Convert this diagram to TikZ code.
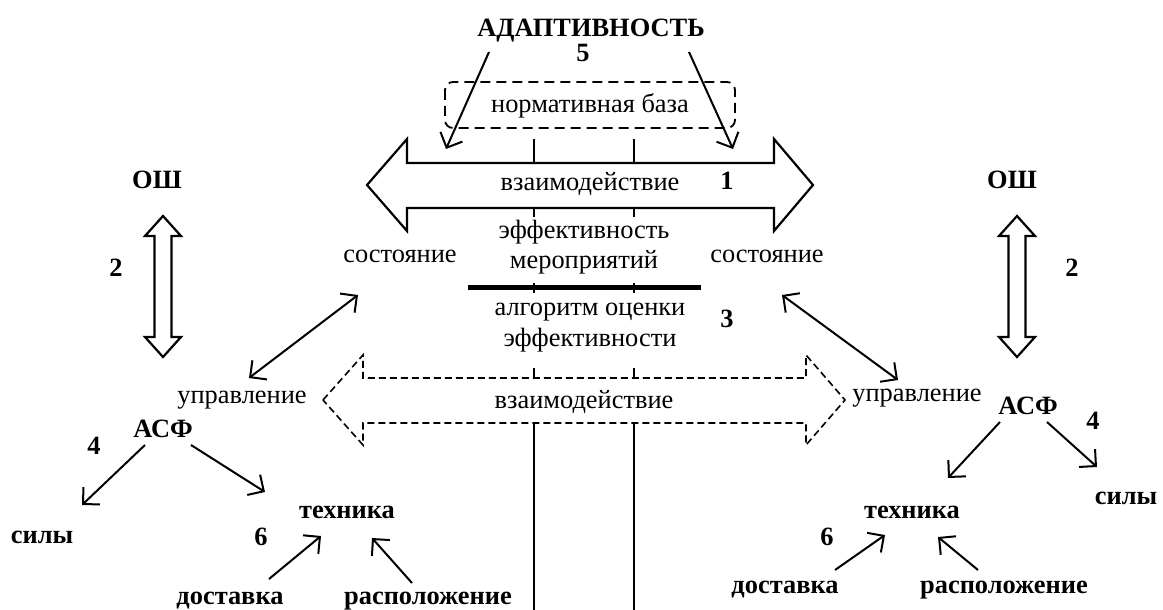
\documentclass[tikz,border=0pt]{standalone}
\usepackage{fontspec}
\setmainfont{Liberation Serif}
\usetikzlibrary{arrows.meta}
\tikzstyle{lbl}=[inner sep=0pt, anchor=base, align=center, font=\fontsize{13.2}{15.5}\selectfont]
\tikzstyle{blbl}=[lbl, font=\fontsize{13.2}{15.5}\selectfont\bfseries]
\tikzstyle{arr}=[-{Straight Barb[length=6pt,width=12pt]}, line width=1pt]
\tikzstyle{darr}=[{Straight Barb[length=6pt,width=12pt]}-{Straight Barb[length=6pt,width=12pt]}, line width=1pt]
\tikzstyle{band}=[line width=1.1pt, line join=miter]
\tikzstyle{dband}=[line width=0.8pt, dash pattern=on 3.5pt off 2pt]
\tikzstyle{tick}=[line width=0.6pt]

\begin{document}
\begin{tikzpicture}[x=0.5pt, y=-0.5pt]
        \useasboundingbox (0,0) rectangle (1163,610);
        % centre
        \node[blbl] (adapt) at (591,37) {АДАПТИВНОСТЬ};
        \node[blbl] (n5)    at (583,62) {5};
        \node[lbl]  (norm)  at (590,113) {нормативная база};
        \node[lbl]  (vz1)   at (590,191) {взаимодействие};
        \node[blbl] (n1)    at (727,190) {1};
        \node[lbl]  (eff)   at (584,269) {эффективность\\мероприятий};
        \node[lbl]  (sost1) at (400,263) {состояние};
        \node[lbl]  (sost2) at (767,263) {состояние};
        \node[lbl]  (alg)   at (590,346) {алгоритм оценки\\эффективности};
        \node[blbl] (n3)    at (727,327) {3};
        \node[lbl]  (vz2)   at (584,408) {взаимодействие};
        % left side
        \node[blbl] (osh1)  at (157,189) {ОШ};
        \node[blbl] (n2a)   at (116,277) {2};
        \node[lbl]  (upr1)  at (242,403) {управление};
        \node[blbl] (asf1)  at (163,437) {АСФ};
        \node[blbl] (n4a)   at (94,454) {4};
        \node[blbl] (sily1) at (42,543) {силы};
        \node[blbl] (tech1) at (347,518) {техника};
        \node[blbl] (n6a)   at (261,545) {6};
        \node[blbl] (dost1) at (230,604) {доставка};
        \node[blbl] (rasp1) at (428,604) {расположение};
        % right side
        \node[blbl] (osh2)  at (1012,189) {ОШ};
        \node[blbl] (n2b)   at (1072,277) {2};
        \node[lbl]  (upr2)  at (917,401) {управление};
        \node[blbl] (asf2)  at (1028,414) {АСФ};
        \node[blbl] (n4b)   at (1093,429) {4};
        \node[blbl] (sily2) at (1126,504) {силы};
        \node[blbl] (tech2) at (912,518) {техника};
        \node[blbl] (n6b)   at (827,545) {6};
        \node[blbl] (dost2) at (785,593) {доставка};
        \node[blbl] (rasp2) at (1004,593) {расположение};
        % arrow ends
        \coordinate (adL) at (489,52);   \coordinate (adLe) at (446,149);
        \coordinate (adR) at (689,52);   \coordinate (adRe) at (733,149);
        \coordinate (sL) at (358,295);   \coordinate (uL) at (249,378);
        \coordinate (sR) at (782,295);   \coordinate (uR) at (898,380);
        \coordinate (aL1) at (145,445);  \coordinate (sy1) at (82,505);
        \coordinate (aL2) at (191,445);  \coordinate (tL) at (265,492);
        \coordinate (aR1) at (1000,422); \coordinate (tR) at (948,478);
        \coordinate (aR2) at (1047,422); \coordinate (sy2) at (1097,467);
        \coordinate (dL) at (269,579);   \coordinate (dLe) at (321,536);
        \coordinate (rL) at (412,583);   \coordinate (rLe) at (372,538);
        \coordinate (dR) at (835,570);   \coordinate (dRe) at (885,535);
        \coordinate (rR) at (978,570);   \coordinate (rRe) at (938,537);
        % interaction arrows
        \draw[band] (367,185) -- (407,139) -- (407,163) -- (774,163) -- (774,139) -- (813,185)
            -- (774,231) -- (774,208) -- (407,208) -- (407,231) -- cycle;
        \draw[band, dband] (323,400) -- (363,355) -- (363,378) -- (806,378) -- (806,355) -- (845,400)
            -- (806,445) -- (806,423) -- (363,423) -- (363,445) -- cycle;
        \draw[dashed, rounded corners=4pt, line width=0.9pt, dash pattern=on 5pt off 3pt] (445,82) rectangle (735,128);
        \draw[line width=2.5pt] (468,287) -- (701,287);
        \draw[tick] (534,139) -- (534,163) (634,139) -- (634,163);
        \draw[tick] (534,208) -- (534,217) (634,208) -- (634,217);
        \draw[tick] (534,283) -- (534,293) (634,283) -- (634,293);
        \draw[tick] (534,368) -- (534,378) (634,368) -- (634,378);
        \draw[tick] (534,423) -- (534,610) (634,423) -- (634,610);
        % OШ <-> АСФ
        \draw[band] (163,216) -- (181,236) -- (171.5,236) -- (171.5,337) -- (181,337) -- (163,357)
            -- (145,337) -- (154.5,337) -- (154.5,236) -- (145,236) -- cycle;
        \draw[band] (1017,216) -- (1035,236) -- (1025.5,236) -- (1025.5,337) -- (1035,337) -- (1017,357)
            -- (999,337) -- (1008.5,337) -- (1008.5,236) -- (999,236) -- cycle;
        % connectors
        \draw[arr] (adL) -- (adLe);
        \draw[arr] (adR) -- (adRe);
        \draw[darr] (uL) -- (sL);
        \draw[darr] (uR) -- (sR);
        \draw[arr] (aL1) -- (sy1);
        \draw[arr] (aL2) -- (tL);
        \draw[arr] (aR1) -- (tR);
        \draw[arr] (aR2) -- (sy2);
        \draw[arr] (dL) -- (dLe);
        \draw[arr] (rL) -- (rLe);
        \draw[arr] (dR) -- (dRe);
        \draw[arr] (rR) -- (rRe);
\end{tikzpicture}
\end{document}
